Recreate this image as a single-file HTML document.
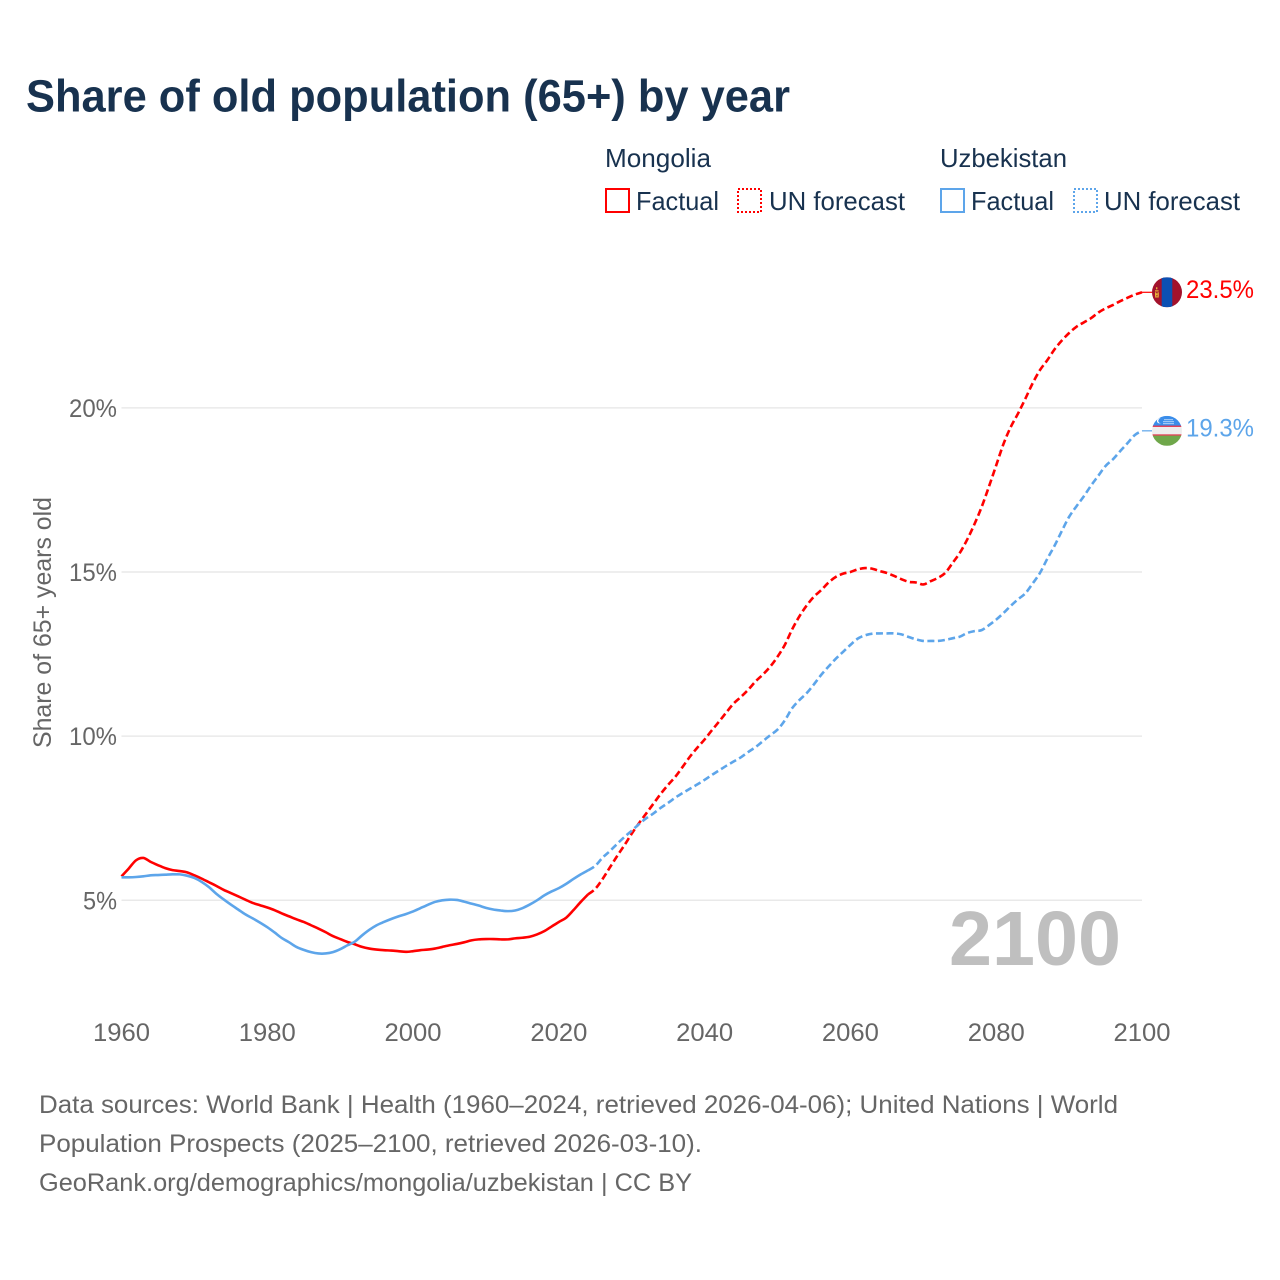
<!DOCTYPE html>
<html lang="en">
<head>
<meta charset="utf-8">
<title>Share of old population (65+) by year</title>
<style>
  html, body { margin: 0; padding: 0; background: #ffffff; }
  svg { display: block; font-family: "Liberation Sans", sans-serif; }
</style>
</head>
<body>
<svg id="chart" xmlns="http://www.w3.org/2000/svg" width="1280" height="1280" viewBox="0 0 1280 1280">
  <rect x="0" y="0" width="1280" height="1280" fill="#ffffff"/>
  <text x="26" y="111.5" font-size="45" font-weight="700" fill="#18324f" textLength="764" lengthAdjust="spacingAndGlyphs">Share of old population (65+) by year</text>

  <g font-size="26" fill="#18324f">
    <text x="605" y="167" textLength="106" lengthAdjust="spacingAndGlyphs">Mongolia</text>
    <rect x="606" y="189" width="23" height="23" fill="none" stroke="#ff0000" stroke-width="2"/>
    <text x="636" y="210" textLength="83" lengthAdjust="spacingAndGlyphs">Factual</text>
    <rect x="738" y="189" width="23" height="23" fill="none" stroke="#ff0000" stroke-width="2" stroke-dasharray="2 2"/>
    <text x="769" y="210" textLength="136" lengthAdjust="spacingAndGlyphs">UN forecast</text>
    <text x="940" y="167" textLength="127" lengthAdjust="spacingAndGlyphs">Uzbekistan</text>
    <rect x="941" y="189" width="23" height="23" fill="none" stroke="#5da5ea" stroke-width="2"/>
    <text x="971" y="210" textLength="83" lengthAdjust="spacingAndGlyphs">Factual</text>
    <rect x="1074" y="189" width="23" height="23" fill="none" stroke="#5da5ea" stroke-width="2" stroke-dasharray="2 2"/>
    <text x="1104" y="210" textLength="136" lengthAdjust="spacingAndGlyphs">UN forecast</text>
  </g>

  <g id="grid"></g>
  <g id="yticks" font-size="25" fill="#666666" text-anchor="end"></g>
  <g id="xticks" font-size="25" fill="#666666" text-anchor="middle"></g>
  <text transform="translate(51,748) rotate(-90)" font-size="25" fill="#666666" textLength="251" lengthAdjust="spacingAndGlyphs">Share of 65+ years old</text>

  <text x="949" y="965" font-size="77" font-weight="700" fill="#bfbfbf" textLength="172" lengthAdjust="spacingAndGlyphs">2100</text>

  <g id="series"></g>

  <defs>
    <clipPath id="flag-clip-mn"><circle cx="0" cy="0" r="15"/></clipPath>
    <clipPath id="flag-clip-uz"><circle cx="0" cy="0" r="15"/></clipPath>
  </defs>
  <g id="flag-mn" clip-path="url(#flag-clip-mn)">
    <rect x="-15" y="-15" width="30" height="30" fill="#a3122c"/>
    <rect x="-5.3" y="-15" width="10.6" height="30" fill="#0b50b3"/>
    <rect x="-11" y="-5" width="1.4" height="2" fill="#e8b23a"/>
    <rect x="-12" y="-2" width="3.6" height="1.2" fill="#e8b23a"/>
    <rect x="-12" y="0" width="1.2" height="4" fill="#e8b23a"/>
    <rect x="-9.4" y="0" width="1.2" height="4" fill="#e8b23a"/>
    <rect x="-11" y="1" width="1.4" height="2" fill="#e8b23a"/>
    <rect x="-12" y="4" width="3.8" height="1.2" fill="#e8b23a"/>
  </g>
  <g id="flag-uz" clip-path="url(#flag-clip-uz)">
    <rect x="-15" y="-15" width="30" height="10.2" fill="#3a8dea"/>
    <rect x="-15" y="-5" width="30" height="9.6" fill="#eeeeee"/>
    <rect x="-15" y="-5.2" width="30" height="1.2" fill="#e0203a"/>
    <rect x="-15" y="3.6" width="30" height="1.2" fill="#e0203a"/>
    <rect x="-15" y="4.8" width="30" height="10.2" fill="#6fa74a"/>
    <circle cx="-7.5" cy="-10" r="2.6" fill="#ffffff"/>
    <circle cx="-6.4" cy="-10" r="2.3" fill="#3a8dea"/>
    <rect x="-3" y="-11.5" width="9" height="0.8" fill="#cfe3fb"/>
    <rect x="-4" y="-9.5" width="11" height="0.8" fill="#cfe3fb"/>
    <rect x="-4" y="-7.5" width="11" height="0.8" fill="#cfe3fb"/>
  </g>
  <text id="end-label-mn" x="1186" font-size="25" fill="#ff0000" textLength="68" lengthAdjust="spacingAndGlyphs"></text>
  <text id="end-label-uz" x="1186" font-size="25" fill="#5da5ea" textLength="68" lengthAdjust="spacingAndGlyphs"></text>

  <g font-size="25" fill="#666666">
    <text x="39" y="1113" textLength="1079" lengthAdjust="spacingAndGlyphs">Data sources: World Bank | Health (1960–2024, retrieved 2026-04-06); United Nations | World</text>
    <text x="39" y="1152" textLength="663" lengthAdjust="spacingAndGlyphs">Population Prospects (2025–2100, retrieved 2026-03-10).</text>
    <text x="39" y="1191" textLength="653" lengthAdjust="spacingAndGlyphs">GeoRank.org/demographics/mongolia/uzbekistan | CC BY</text>
  </g>
</svg>
<script>
const xTickYears = [1960, 1980, 2000, 2020, 2040, 2060, 2080, 2100];
const yTickValues = [5, 10, 15, 20];
const factualStartYear = 1960;
const forecastStartYear = 2024;
const mongoliaFactual = [5.73,5.97,6.22,6.29,6.17,6.07,5.98,5.92,5.89,5.85,5.76,5.66,5.55,5.44,5.32,5.22,5.12,5.02,4.92,4.85,4.78,4.7,4.6,4.51,4.42,4.34,4.24,4.14,4.03,3.91,3.82,3.73,3.66,3.58,3.53,3.5,3.48,3.47,3.45,3.43,3.45,3.48,3.5,3.53,3.58,3.63,3.67,3.72,3.78,3.81,3.82,3.82,3.81,3.81,3.84,3.86,3.89,3.96,4.06,4.2,4.34,4.47,4.7,4.95,5.18];
const uzbekistanFactual = [5.7,5.7,5.71,5.73,5.76,5.77,5.78,5.79,5.79,5.75,5.68,5.56,5.4,5.2,5.03,4.87,4.72,4.57,4.45,4.32,4.18,4.02,3.85,3.72,3.58,3.49,3.42,3.38,3.38,3.42,3.51,3.63,3.74,3.93,4.1,4.24,4.34,4.43,4.51,4.58,4.66,4.76,4.86,4.95,5.0,5.02,5.01,4.96,4.9,4.84,4.77,4.72,4.69,4.67,4.69,4.76,4.87,5.0,5.15,5.27,5.37,5.5,5.65,5.79,5.91];
const mongoliaForecast = [5.18,5.35,5.65,6.0,6.35,6.68,7.03,7.35,7.65,7.95,8.25,8.52,8.77,9.07,9.38,9.65,9.9,10.18,10.45,10.73,11.0,11.2,11.42,11.67,11.88,12.12,12.42,12.78,13.25,13.65,13.98,14.25,14.45,14.68,14.85,14.95,15.0,15.08,15.12,15.1,15.03,14.97,14.88,14.78,14.7,14.68,14.62,14.72,14.82,14.97,15.27,15.58,15.98,16.45,16.98,17.6,18.25,18.9,19.42,19.83,20.28,20.75,21.15,21.45,21.78,22.05,22.28,22.47,22.6,22.73,22.9,23.03,23.13,23.25,23.35,23.45,23.52];
const uzbekistanForecast = [5.91,6.05,6.3,6.5,6.72,6.93,7.12,7.32,7.5,7.65,7.82,7.97,8.13,8.27,8.4,8.53,8.67,8.82,8.96,9.1,9.23,9.36,9.52,9.67,9.85,10.03,10.2,10.48,10.85,11.1,11.31,11.58,11.87,12.12,12.36,12.57,12.78,12.97,13.07,13.12,13.13,13.13,13.13,13.1,13.02,12.95,12.9,12.9,12.9,12.93,12.98,13.03,13.14,13.2,13.23,13.38,13.55,13.75,13.97,14.17,14.35,14.65,14.97,15.4,15.8,16.25,16.68,17.0,17.3,17.63,17.93,18.23,18.43,18.68,18.92,19.17,19.3];
const mongoliaEndLabel = "23.5%";
const uzbekistanEndLabel = "19.3%";

const NS = "http://www.w3.org/2000/svg";
const xScale = function (year) { return 121.5 + (year - 1960) * (1142 - 121.5) / 140; };
const yScale = function (value) { return 900.3 - (value - 5) * 32.83; };

function make(tag, parent) {
  const el = document.createElementNS(NS, tag);
  parent.appendChild(el);
  return el;
}

function smoothPath(startYear, values) {
  const pts = values.map(function (v, i) { return [xScale(startYear + i), yScale(v)]; });
  let d = "M" + pts[0][0].toFixed(2) + " " + pts[0][1].toFixed(2);
  for (let i = 0; i < pts.length - 1; i++) {
    const p0 = pts[Math.max(0, i - 1)];
    const p1 = pts[i];
    const p2 = pts[i + 1];
    const p3 = pts[Math.min(pts.length - 1, i + 2)];
    const c1x = p1[0] + (p2[0] - p0[0]) / 6;
    const c1y = p1[1] + (p2[1] - p0[1]) / 6;
    const c2x = p2[0] - (p3[0] - p1[0]) / 6;
    const c2y = p2[1] - (p3[1] - p1[1]) / 6;
    d += "C" + c1x.toFixed(2) + " " + c1y.toFixed(2) + " " + c2x.toFixed(2) + " " + c2y.toFixed(2) + " " + p2[0].toFixed(2) + " " + p2[1].toFixed(2);
  }
  return d;
}

const gridGroup = document.getElementById("grid");
const yTickGroup = document.getElementById("yticks");
yTickValues.forEach(function (v) {
  const line = make("line", gridGroup);
  
  
  line.setAttribute("x1", xScale(1960));
  line.setAttribute("x2", xScale(2100));
  line.setAttribute("y1", yScale(v));
  line.setAttribute("y2", yScale(v));
  line.setAttribute("stroke", "#e9e9e9");
  line.setAttribute("stroke-width", "1.5");
  const label = make("text", yTickGroup);
  
  
  label.setAttribute("x", 117);
  label.setAttribute("y", yScale(v) + 9);
  label.setAttribute("textLength", v < 10 ? 34 : 48);
  label.setAttribute("lengthAdjust", "spacingAndGlyphs");
  label.textContent = v + "%";
});

const xTickGroup = document.getElementById("xticks");
xTickYears.forEach(function (year) {
  const label = make("text", xTickGroup);
  
  
  label.setAttribute("x", xScale(year));
  label.setAttribute("y", 1041);
  label.setAttribute("textLength", 57);
  label.setAttribute("lengthAdjust", "spacingAndGlyphs");
  label.textContent = year;
});

const seriesGroup = document.getElementById("series");

function drawCountry(slug, color, factual, forecast, flagId, labelId, labelText) {
  const factualLine = make("path", seriesGroup);
  
  
  factualLine.setAttribute("d", smoothPath(factualStartYear, factual));
  factualLine.setAttribute("fill", "none");
  factualLine.setAttribute("stroke", color);
  factualLine.setAttribute("stroke-width", "2.6");
  factualLine.setAttribute("stroke-linejoin", "round");

  const forecastLine = make("path", seriesGroup);
  
  
  forecastLine.setAttribute("d", smoothPath(forecastStartYear, forecast));
  forecastLine.setAttribute("fill", "none");
  forecastLine.setAttribute("stroke", color);
  forecastLine.setAttribute("stroke-width", "2.6");
  forecastLine.setAttribute("stroke-dasharray", "7 3.5");

  const endValue = forecast[forecast.length - 1];
  const endY = yScale(endValue);
  const connector = make("line", seriesGroup);
  
  
  connector.setAttribute("x1", xScale(2100));
  connector.setAttribute("x2", 1152);
  connector.setAttribute("y1", endY);
  connector.setAttribute("y2", endY);
  connector.setAttribute("stroke", color);
  connector.setAttribute("stroke-width", "1.2");

  document.getElementById(flagId).setAttribute("transform", "translate(1167," + endY.toFixed(2) + ")");
  const label = document.getElementById(labelId);
  label.setAttribute("y", endY + 5.5);
  label.textContent = labelText;
}

drawCountry("mongolia", "#ff0000", mongoliaFactual, mongoliaForecast, "flag-mn", "end-label-mn", mongoliaEndLabel);
drawCountry("uzbekistan", "#5da5ea", uzbekistanFactual, uzbekistanForecast, "flag-uz", "end-label-uz", uzbekistanEndLabel);
</script>
</body>
</html>
